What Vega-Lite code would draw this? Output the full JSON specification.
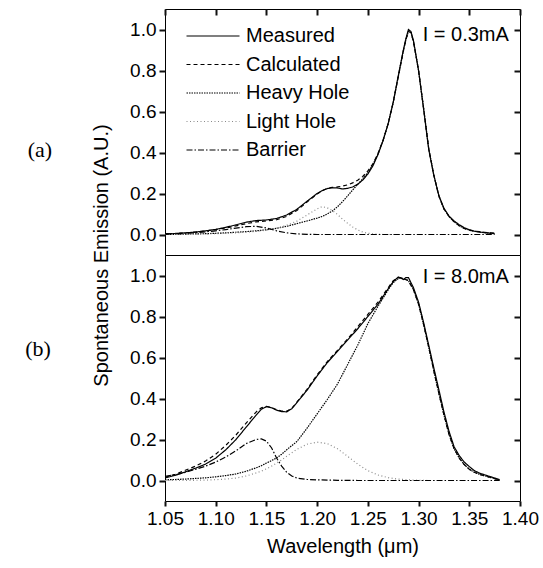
{
  "$schema": "https://vega.github.io/schema/vega-lite/v6.json",
  "background": "white",
  "padding": {"left": 24, "top": 7, "right": 0, "bottom": 4},
  "spacing": 0,
  "bounds": "flush",
  "config": {
    "view": {"stroke": "black", "strokeWidth": 1},
    "font": "Liberation Sans",
    "axis": {"grid": false, "domain": false, "ticks": true, "labelColor": "black", "titleColor": "black", "labelFont": "Liberation Sans", "titleFont": "Liberation Sans", "labelFontSize": 19, "titleFontSize": 20, "titleFontWeight": "normal", "labelOverlap": false, "labelFlush": false},
    "text": {"font": "Liberation Sans"}
  },
  "resolve": {"scale": {"color": "independent", "strokeDash": "independent"}, "legend": {"color": "independent", "strokeDash": "independent"}},
  "datasets": {
    "a": [
      {"wl":1.05,"Measured":0.003,"Calculated":0.003,"Heavy Hole":0.0,"Light Hole":0.0,"Barrier":0.002},
      {"wl":1.06,"Measured":0.005,"Calculated":0.005,"Heavy Hole":0.001,"Light Hole":0.001,"Barrier":0.004},
      {"wl":1.07,"Measured":0.008,"Calculated":0.008,"Heavy Hole":0.002,"Light Hole":0.001,"Barrier":0.006},
      {"wl":1.08,"Measured":0.012,"Calculated":0.012,"Heavy Hole":0.003,"Light Hole":0.002,"Barrier":0.009},
      {"wl":1.09,"Measured":0.018,"Calculated":0.017,"Heavy Hole":0.004,"Light Hole":0.003,"Barrier":0.013},
      {"wl":1.1,"Measured":0.025,"Calculated":0.024,"Heavy Hole":0.006,"Light Hole":0.004,"Barrier":0.018},
      {"wl":1.11,"Measured":0.035,"Calculated":0.032,"Heavy Hole":0.008,"Light Hole":0.006,"Barrier":0.024},
      {"wl":1.12,"Measured":0.047,"Calculated":0.042,"Heavy Hole":0.011,"Light Hole":0.008,"Barrier":0.031},
      {"wl":1.13,"Measured":0.06,"Calculated":0.053,"Heavy Hole":0.014,"Light Hole":0.011,"Barrier":0.038},
      {"wl":1.14,"Measured":0.068,"Calculated":0.062,"Heavy Hole":0.018,"Light Hole":0.015,"Barrier":0.04},
      {"wl":1.15,"Measured":0.071,"Calculated":0.066,"Heavy Hole":0.023,"Light Hole":0.021,"Barrier":0.032},
      {"wl":1.16,"Measured":0.078,"Calculated":0.072,"Heavy Hole":0.03,"Light Hole":0.031,"Barrier":0.018},
      {"wl":1.17,"Measured":0.095,"Calculated":0.088,"Heavy Hole":0.04,"Light Hole":0.045,"Barrier":0.008},
      {"wl":1.18,"Measured":0.123,"Calculated":0.117,"Heavy Hole":0.053,"Light Hole":0.065,"Barrier":0.003},
      {"wl":1.19,"Measured":0.162,"Calculated":0.158,"Heavy Hole":0.066,"Light Hole":0.095,"Barrier":0.001},
      {"wl":1.2,"Measured":0.2,"Calculated":0.198,"Heavy Hole":0.08,"Light Hole":0.125,"Barrier":0.0},
      {"wl":1.205,"Measured":0.214,"Calculated":0.214,"Heavy Hole":0.088,"Light Hole":0.136,"Barrier":0.0},
      {"wl":1.21,"Measured":0.224,"Calculated":0.225,"Heavy Hole":0.1,"Light Hole":0.13,"Barrier":0.0},
      {"wl":1.215,"Measured":0.228,"Calculated":0.23,"Heavy Hole":0.115,"Light Hole":0.117,"Barrier":0.0},
      {"wl":1.22,"Measured":0.227,"Calculated":0.232,"Heavy Hole":0.135,"Light Hole":0.098,"Barrier":0.0},
      {"wl":1.225,"Measured":0.222,"Calculated":0.236,"Heavy Hole":0.16,"Light Hole":0.075,"Barrier":0.0},
      {"wl":1.23,"Measured":0.225,"Calculated":0.242,"Heavy Hole":0.188,"Light Hole":0.055,"Barrier":0.0},
      {"wl":1.235,"Measured":0.232,"Calculated":0.252,"Heavy Hole":0.217,"Light Hole":0.037,"Barrier":0.0},
      {"wl":1.24,"Measured":0.245,"Calculated":0.265,"Heavy Hole":0.245,"Light Hole":0.022,"Barrier":0.0},
      {"wl":1.245,"Measured":0.266,"Calculated":0.283,"Heavy Hole":0.272,"Light Hole":0.012,"Barrier":0.0},
      {"wl":1.25,"Measured":0.295,"Calculated":0.31,"Heavy Hole":0.302,"Light Hole":0.006,"Barrier":0.0},
      {"wl":1.255,"Measured":0.335,"Calculated":0.345,"Heavy Hole":0.342,"Light Hole":0.003,"Barrier":0.0},
      {"wl":1.26,"Measured":0.39,"Calculated":0.395,"Heavy Hole":0.393,"Light Hole":0.001,"Barrier":0.0},
      {"wl":1.265,"Measured":0.458,"Calculated":0.46,"Heavy Hole":0.46,"Light Hole":0.0,"Barrier":0.0},
      {"wl":1.27,"Measured":0.54,"Calculated":0.54,"Heavy Hole":0.54,"Light Hole":0.0,"Barrier":0.0},
      {"wl":1.275,"Measured":0.645,"Calculated":0.645,"Heavy Hole":0.645,"Light Hole":0.0,"Barrier":0.0},
      {"wl":1.28,"Measured":0.775,"Calculated":0.77,"Heavy Hole":0.77,"Light Hole":0.0,"Barrier":0.0},
      {"wl":1.285,"Measured":0.9,"Calculated":0.895,"Heavy Hole":0.895,"Barrier":0.0},
      {"wl":1.2875,"Measured":0.955,"Calculated":0.95,"Heavy Hole":0.95,"Barrier":0.0},
      {"wl":1.29,"Measured":1.0,"Calculated":0.99,"Heavy Hole":0.99,"Barrier":0.0},
      {"wl":1.2925,"Measured":0.99,"Calculated":0.985,"Heavy Hole":0.985,"Barrier":0.0},
      {"wl":1.295,"Measured":0.945,"Calculated":0.94,"Heavy Hole":0.94,"Barrier":0.0},
      {"wl":1.3,"Measured":0.8,"Calculated":0.8,"Heavy Hole":0.8,"Barrier":0.0},
      {"wl":1.305,"Measured":0.61,"Calculated":0.615,"Heavy Hole":0.615,"Barrier":0.0},
      {"wl":1.31,"Measured":0.415,"Calculated":0.42,"Heavy Hole":0.42,"Barrier":0.0},
      {"wl":1.315,"Measured":0.29,"Calculated":0.29,"Heavy Hole":0.29,"Barrier":0.0},
      {"wl":1.32,"Measured":0.19,"Calculated":0.188,"Heavy Hole":0.188,"Barrier":0.0},
      {"wl":1.325,"Measured":0.128,"Calculated":0.125,"Heavy Hole":0.125,"Barrier":0.0},
      {"wl":1.33,"Measured":0.09,"Calculated":0.088,"Heavy Hole":0.088,"Barrier":0.0},
      {"wl":1.335,"Measured":0.066,"Calculated":0.062,"Heavy Hole":0.062,"Barrier":0.0},
      {"wl":1.34,"Measured":0.048,"Calculated":0.043,"Heavy Hole":0.043,"Barrier":0.0},
      {"wl":1.345,"Measured":0.033,"Calculated":0.03,"Heavy Hole":0.03,"Barrier":0.0},
      {"wl":1.35,"Measured":0.023,"Calculated":0.021,"Heavy Hole":0.021,"Barrier":0.0},
      {"wl":1.355,"Measured":0.016,"Calculated":0.017,"Heavy Hole":0.016,"Barrier":0.0},
      {"wl":1.36,"Measured":0.012,"Calculated":0.014,"Heavy Hole":0.012,"Barrier":0.0},
      {"wl":1.365,"Measured":0.009,"Calculated":0.011,"Heavy Hole":0.009,"Barrier":0.0},
      {"wl":1.37,"Measured":0.007,"Calculated":0.008,"Heavy Hole":0.006,"Barrier":0.0},
      {"wl":1.375,"Measured":0.005,"Calculated":0.006,"Heavy Hole":0.004,"Barrier":0.0}
    ],
    "b": [
      {"wl":1.05,"Measured":0.012,"Calculated":0.015,"Heavy Hole":0.003,"Light Hole":0.0,"Barrier":0.02},
      {"wl":1.06,"Measured":0.025,"Calculated":0.03,"Heavy Hole":0.005,"Light Hole":0.0,"Barrier":0.028},
      {"wl":1.07,"Measured":0.042,"Calculated":0.05,"Heavy Hole":0.007,"Light Hole":0.001,"Barrier":0.04},
      {"wl":1.08,"Measured":0.06,"Calculated":0.07,"Heavy Hole":0.01,"Light Hole":0.001,"Barrier":0.054},
      {"wl":1.09,"Measured":0.08,"Calculated":0.095,"Heavy Hole":0.013,"Light Hole":0.002,"Barrier":0.07},
      {"wl":1.1,"Measured":0.109,"Calculated":0.128,"Heavy Hole":0.018,"Light Hole":0.004,"Barrier":0.09},
      {"wl":1.11,"Measured":0.15,"Calculated":0.172,"Heavy Hole":0.024,"Light Hole":0.007,"Barrier":0.115},
      {"wl":1.12,"Measured":0.2,"Calculated":0.222,"Heavy Hole":0.032,"Light Hole":0.012,"Barrier":0.145},
      {"wl":1.13,"Measured":0.26,"Calculated":0.28,"Heavy Hole":0.045,"Light Hole":0.022,"Barrier":0.18},
      {"wl":1.14,"Measured":0.32,"Calculated":0.335,"Heavy Hole":0.062,"Light Hole":0.037,"Barrier":0.2},
      {"wl":1.145,"Measured":0.348,"Calculated":0.355,"Heavy Hole":0.072,"Light Hole":0.046,"Barrier":0.203},
      {"wl":1.15,"Measured":0.36,"Calculated":0.362,"Heavy Hole":0.085,"Light Hole":0.057,"Barrier":0.192},
      {"wl":1.155,"Measured":0.355,"Calculated":0.356,"Heavy Hole":0.097,"Light Hole":0.07,"Barrier":0.16},
      {"wl":1.16,"Measured":0.343,"Calculated":0.346,"Heavy Hole":0.11,"Light Hole":0.085,"Barrier":0.11},
      {"wl":1.165,"Measured":0.336,"Calculated":0.339,"Heavy Hole":0.128,"Light Hole":0.1,"Barrier":0.07},
      {"wl":1.17,"Measured":0.335,"Calculated":0.338,"Heavy Hole":0.15,"Light Hole":0.118,"Barrier":0.04},
      {"wl":1.175,"Measured":0.35,"Calculated":0.352,"Heavy Hole":0.17,"Light Hole":0.135,"Barrier":0.022},
      {"wl":1.18,"Measured":0.38,"Calculated":0.382,"Heavy Hole":0.19,"Light Hole":0.152,"Barrier":0.012},
      {"wl":1.19,"Measured":0.44,"Calculated":0.445,"Heavy Hole":0.255,"Light Hole":0.177,"Barrier":0.005},
      {"wl":1.2,"Measured":0.51,"Calculated":0.515,"Heavy Hole":0.325,"Light Hole":0.187,"Barrier":0.003},
      {"wl":1.21,"Measured":0.575,"Calculated":0.58,"Heavy Hole":0.395,"Light Hole":0.18,"Barrier":0.002},
      {"wl":1.22,"Measured":0.63,"Calculated":0.635,"Heavy Hole":0.47,"Light Hole":0.155,"Barrier":0.001},
      {"wl":1.23,"Measured":0.685,"Calculated":0.69,"Heavy Hole":0.565,"Light Hole":0.118,"Barrier":0.001},
      {"wl":1.24,"Measured":0.74,"Calculated":0.75,"Heavy Hole":0.66,"Light Hole":0.08,"Barrier":0.0},
      {"wl":1.25,"Measured":0.8,"Calculated":0.81,"Heavy Hole":0.765,"Light Hole":0.048,"Barrier":0.0},
      {"wl":1.26,"Measured":0.86,"Calculated":0.87,"Heavy Hole":0.85,"Light Hole":0.027,"Barrier":0.0},
      {"wl":1.27,"Measured":0.935,"Calculated":0.94,"Heavy Hole":0.93,"Light Hole":0.014,"Barrier":0.0},
      {"wl":1.275,"Measured":0.97,"Calculated":0.975,"Heavy Hole":0.965,"Light Hole":0.01,"Barrier":0.0},
      {"wl":1.28,"Measured":0.993,"Calculated":0.99,"Heavy Hole":0.985,"Light Hole":0.007,"Barrier":0.0},
      {"wl":1.2825,"Measured":0.988,"Calculated":0.99,"Heavy Hole":0.988,"Barrier":0.0},
      {"wl":1.285,"Measured":0.98,"Calculated":0.985,"Heavy Hole":0.985,"Light Hole":0.005,"Barrier":0.0},
      {"wl":1.2875,"Measured":0.99,"Calculated":0.98,"Heavy Hole":0.98,"Barrier":0.0},
      {"wl":1.29,"Measured":0.99,"Calculated":0.975,"Heavy Hole":0.975,"Light Hole":0.003,"Barrier":0.0},
      {"wl":1.295,"Measured":0.94,"Calculated":0.93,"Heavy Hole":0.93,"Barrier":0.0},
      {"wl":1.3,"Measured":0.87,"Calculated":0.86,"Heavy Hole":0.86,"Light Hole":0.001,"Barrier":0.0},
      {"wl":1.305,"Measured":0.77,"Calculated":0.76,"Heavy Hole":0.76,"Barrier":0.0},
      {"wl":1.31,"Measured":0.66,"Calculated":0.65,"Heavy Hole":0.65,"Light Hole":0.0,"Barrier":0.0},
      {"wl":1.315,"Measured":0.55,"Calculated":0.535,"Heavy Hole":0.535,"Barrier":0.0},
      {"wl":1.32,"Measured":0.443,"Calculated":0.425,"Heavy Hole":0.425,"Light Hole":0.0,"Barrier":0.0},
      {"wl":1.325,"Measured":0.335,"Calculated":0.32,"Heavy Hole":0.32,"Barrier":0.0},
      {"wl":1.33,"Measured":0.24,"Calculated":0.225,"Heavy Hole":0.225,"Barrier":0.0},
      {"wl":1.335,"Measured":0.165,"Calculated":0.155,"Heavy Hole":0.155,"Barrier":0.0},
      {"wl":1.34,"Measured":0.122,"Calculated":0.11,"Heavy Hole":0.11,"Barrier":0.0},
      {"wl":1.345,"Measured":0.09,"Calculated":0.078,"Heavy Hole":0.078,"Barrier":0.0},
      {"wl":1.35,"Measured":0.068,"Calculated":0.055,"Heavy Hole":0.055,"Barrier":0.0},
      {"wl":1.355,"Measured":0.048,"Calculated":0.04,"Heavy Hole":0.04,"Barrier":0.0},
      {"wl":1.36,"Measured":0.036,"Calculated":0.03,"Heavy Hole":0.03,"Barrier":0.0},
      {"wl":1.37,"Measured":0.02,"Calculated":0.016,"Heavy Hole":0.016,"Barrier":0.0},
      {"wl":1.375,"Measured":0.012,"Calculated":0.009,"Heavy Hole":0.009,"Barrier":0.0},
      {"wl":1.38,"Measured":0.004,"Calculated":0.003,"Heavy Hole":0.003,"Barrier":0.0}
    ]
  },
  "vconcat": [
    {
      "width": 355,
      "height": 246,
      "title": {"text": "(a)", "orient": "left", "frame": "group", "angle": 0, "align": "right", "baseline": "middle", "font": "Liberation Serif", "fontSize": 22, "fontWeight": "normal", "color": "black", "offset": 15, "dy": 18},
      "resolve": {"axis": {"x": "independent", "y": "independent"}},
      "layer": [
        {
          "data": {"name": "a"},
          "transform": [
            {"fold": ["Measured", "Calculated", "Heavy Hole", "Light Hole", "Barrier"], "as": ["series", "value"]},
            {"filter": "isValid(datum.value)"}
          ],
          "mark": {"type": "line", "strokeWidth": 1.2, "clip": true},
          "encoding": {
            "x": {"field": "wl", "type": "quantitative", "scale": {"domain": [1.05, 1.4], "nice": false, "zero": false},
              "axis": {"orient": "top", "title": null, "labels": false, "values": [1.05,1.1,1.15,1.2,1.25,1.3,1.35,1.4],
                "tickSize": -6, "tickColor": "#111111", "tickWidth": 2}},
            "y": {"field": "value", "type": "quantitative", "scale": {"domain": [-0.1, 1.1], "nice": false, "zero": false},
              "axis": {"orient": "left", "title": "Spontaneous Emission (A.U.)", "titleY": 246, "titlePadding": 18, "labelPadding": 3,
                "values": [0,0.2,0.4,0.6,0.8,1.0], "format": ".1f",
                "tickSize": 6, "tickColor": "#111111", "tickWidth": 2}},
            "strokeDash": {"field": "series", "type": "nominal",
              "scale": {"domain": ["Measured", "Calculated", "Heavy Hole", "Light Hole", "Barrier"], "range": [[1, 0], [4, 3], [1.5, 1], [1, 2.5], [6, 2, 1.5, 2]]},
              "legend": {"orient": "none", "legendX": 37, "legendY": 16, "title": null, "padding": 0, "symbolType": "M-2.65,0H2.65", "symbolSize": 400, "symbolStrokeWidth": 1.2, "labelFont": "Liberation Sans", "labelFontSize": 20, "labelColor": "black", "labelOffset": 22, "rowPadding": 7.5, "labelLimit": 300}},
            "color": {"field": "series", "type": "nominal",
              "scale": {"domain": ["Measured", "Calculated", "Heavy Hole", "Light Hole", "Barrier"], "range": ["black", "black", "black", "#8a8a8a", "black"]},
              "legend": {"orient": "none", "legendX": 37, "legendY": 16, "title": null, "padding": 0, "symbolType": "M-2.65,0H2.65", "symbolSize": 400, "symbolStrokeWidth": 1.2, "labelFont": "Liberation Sans", "labelFontSize": 20, "labelColor": "black", "labelOffset": 22, "rowPadding": 7.5, "labelLimit": 300}}
          }
        },
        {
          "data": {"values": [{"wl": 1.389, "value": 0.975, "label": "I = 0.3mA"}]},
          "mark": {"type": "text", "align": "right", "baseline": "middle", "fontSize": 20, "font": "Liberation Sans", "color": "black"},
          "encoding": {
            "x": {"field": "wl", "type": "quantitative", "axis": null},
            "y": {"field": "value", "type": "quantitative",
              "axis": {"orient": "right", "title": null, "labels": false, "values": [0,0.2,0.4,0.6,0.8,1.0],
                "tickSize": -6, "tickColor": "#111111", "tickWidth": 2}},
            "text": {"field": "label"}
          }
        }
      ]
    },
    {
      "width": 355,
      "height": 246,
      "title": {"text": "(b)", "orient": "left", "frame": "group", "angle": 0, "align": "right", "baseline": "middle", "font": "Liberation Serif", "fontSize": 22, "fontWeight": "normal", "color": "black", "offset": 53, "dy": -29},
      "resolve": {"axis": {"x": "independent", "y": "independent"}},
      "layer": [
        {
          "data": {"name": "b"},
          "transform": [
            {"fold": ["Measured", "Calculated", "Heavy Hole", "Light Hole", "Barrier"], "as": ["series", "value"]},
            {"filter": "isValid(datum.value)"}
          ],
          "mark": {"type": "line", "strokeWidth": 1.2, "clip": true},
          "encoding": {
            "x": {"field": "wl", "type": "quantitative", "scale": {"domain": [1.05, 1.4], "nice": false, "zero": false},
              "axis": {"orient": "bottom", "title": "Wavelength (μm)", "titlePadding": 8, "labelPadding": 3,
                "values": [1.05,1.1,1.15,1.2,1.25,1.3,1.35,1.4], "format": ".2f",
                "tickSize": 5, "tickColor": "#111111", "tickWidth": 2}},
            "y": {"field": "value", "type": "quantitative", "scale": {"domain": [-0.1, 1.1], "nice": false, "zero": false},
              "axis": {"orient": "left", "title": null, "labelPadding": 3,
                "values": [0,0.2,0.4,0.6,0.8,1.0], "format": ".1f",
                "tickSize": 6, "tickColor": "#111111", "tickWidth": 2}},
            "strokeDash": {"field": "series", "type": "nominal",
              "scale": {"domain": ["Measured", "Calculated", "Heavy Hole", "Light Hole", "Barrier"], "range": [[1, 0], [4, 3], [1.5, 1], [1, 2.5], [6, 2, 1.5, 2]]},
              "legend": null},
            "color": {"field": "series", "type": "nominal",
              "scale": {"domain": ["Measured", "Calculated", "Heavy Hole", "Light Hole", "Barrier"], "range": ["black", "black", "black", "#8a8a8a", "black"]},
              "legend": null}
          }
        },
        {
          "data": {"values": [{"wl": 1.389, "value": 0.995, "label": "I = 8.0mA"}]},
          "mark": {"type": "text", "align": "right", "baseline": "middle", "fontSize": 20, "font": "Liberation Sans", "color": "black"},
          "encoding": {
            "x": {"field": "wl", "type": "quantitative", "axis": null},
            "y": {"field": "value", "type": "quantitative",
              "axis": {"orient": "right", "title": null, "labels": false, "values": [0,0.2,0.4,0.6,0.8,1.0],
                "tickSize": -6, "tickColor": "#111111", "tickWidth": 2}},
            "text": {"field": "label"}
          }
        }
      ]
    }
  ]
}
